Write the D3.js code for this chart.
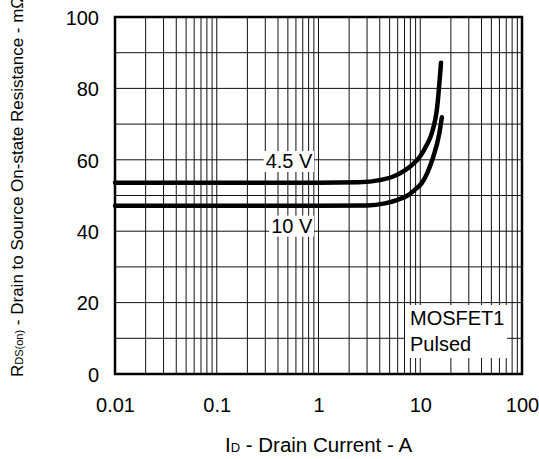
<!DOCTYPE html>
<html>
<head>
<meta charset="utf-8">
<script src="https://cdn.jsdelivr.net/npm/d3@7"></script>
<style>
  body { margin: 0; background: #fff; }
  text { font-family: "Liberation Sans", Arial, sans-serif; fill: #000; }
</style>
</head>
<body>
<div id="chart"></div>
<script>
// Rds(on) vs drain current, two gate voltages

// data
var id_45 = [0.01, 1, 2.5, 4, 5.5, 7, 8.5, 10, 11.5, 13, 14.7, 16]
var rds_45 = [53.6, 53.6, 53.7, 54.3, 55.4, 57.0, 58.8, 61.0, 64.0, 67.5, 75.0, 87.2]
var id_10 = [0.01, 1, 3, 4.5, 6, 7.5, 9, 10.3, 11.8, 13.3, 15.4, 16.3]
var rds_10 = [47.1, 47.1, 47.2, 47.8, 48.8, 50.0, 51.8, 53.4, 56.5, 60.5, 67.4, 71.9]

var x_ticks = [0.01, 0.1, 1, 10, 100]
var x_tick_labels = ['0.01', '0.1', '1', '10', '100']
var y_ticks = [0, 20, 40, 60, 80, 100]

// series labels: text, anchor current (right end), anchor resistance (baseline)
var series_labels = [
    { text: '4.5 V', i: 0.87, r: 57.7 },
    { text: '10 V',  i: 0.87, r: 39.6 }
]

// sizes
var width = 539, height = 459
var margin = { top: 17, right: 17, bottom: 85, left: 115 }
var w = width - margin.left - margin.right
var h = height - margin.top - margin.bottom

var svg = d3.select('#chart').append('svg')
    .attr('width', width)
    .attr('height', height)

var g = svg.append('g').attr('transform', `translate(${margin.left},${margin.top})`)

var x = d3.scaleLog().domain([0.01, 100]).range([0, w])
var y = d3.scaleLinear().domain([0, 100]).range([h, 0])

// grid
g.append('g').selectAll('line').data(x.ticks())
  .enter().append('line')
    .attr('x1', d => x(d)).attr('x2', d => x(d))
    .attr('y1', 0).attr('y2', h)
    .attr('stroke', '#111').attr('stroke-width', 1)

g.append('g').selectAll('line').data(d3.range(10, 100, 10))
  .enter().append('line')
    .attr('x1', 0).attr('x2', w)
    .attr('y1', d => y(d)).attr('y2', d => y(d))
    .attr('stroke', '#111').attr('stroke-width', 1)

// axes (labels only)
var xAxis = g.append('g')
    .attr('transform', `translate(0,${h})`)
    .call(d3.axisBottom(x).tickValues(x_ticks).tickSize(0).tickPadding(0)
        .tickFormat((d, i) => x_tick_labels[i]))
xAxis.select('.domain').remove()
xAxis.selectAll('text')
    .attr('dy', null).attr('y', 38)
    .style('font-size', '20px').style('font-family', '"Liberation Sans", Arial, sans-serif')

var yAxis = g.append('g')
    .call(d3.axisLeft(y).tickValues(y_ticks).tickSize(0).tickPadding(16))
yAxis.select('.domain').remove()
yAxis.selectAll('text')
    .attr('dy', '0.36em')
    .style('font-size', '20px').style('font-family', '"Liberation Sans", Arial, sans-serif')

// curves
var line = d3.line()
    .x(d => x(d[0]))
    .y(d => y(d[1]))
    .curve(d3.curveMonotoneX)

var curves = [d3.zip(id_45, rds_45), d3.zip(id_10, rds_10)]
g.append('g').selectAll('path').data(curves)
  .enter().append('path')
    .attr('d', line)
    .attr('fill', 'none')
    .attr('stroke', '#000')
    .attr('stroke-width', 4.5)
    .attr('stroke-linecap', 'round')

// series labels with white box
series_labels.forEach(function(s) {
    var t = g.append('text')
        .attr('x', x(s.i))
        .attr('y', y(s.r))
        .attr('text-anchor', 'end')
        .style('font-size', '20px')
        .text(s.text)
    var b = t.node().getBBox()
    g.insert('rect', function() { return t.node() })
        .attr('x', b.x - 2).attr('y', b.y + 1)
        .attr('width', b.width + 3).attr('height', b.height - 1)
        .attr('fill', '#fff')
})

// MOSFET1 / Pulsed note
var note = g.append('g')
note.append('text').attr('x', 295).attr('y', 308).style('font-size', '20px').text('MOSFET1')
note.append('text').attr('x', 295).attr('y', 334).style('font-size', '20px').text('Pulsed')
note.insert('rect', 'text')
    .attr('x', 290).attr('y', 288)
    .attr('width', 102).attr('height', 53)
    .attr('fill', '#fff')

// frame
g.append('rect')
    .attr('width', w).attr('height', h)
    .attr('fill', 'none')
    .attr('stroke', '#000')
    .attr('stroke-width', 2.5)

// axis titles
var xt = svg.append('text')
    .attr('x', margin.left + w / 2)
    .attr('y', 452)
    .attr('text-anchor', 'middle')
    .style('font-size', '20.5px')
xt.append('tspan').text('I')
xt.append('tspan').style('font-size', '13px').text('D')
xt.append('tspan').text(' - Drain Current - A')

var yt = svg.append('text')
    .attr('transform', 'translate(23,377) rotate(-90)')
    .attr('text-anchor', 'start')
    .style('font-size', '17px')
yt.append('tspan').text('R')
yt.append('tspan').style('font-size', '11px').text('DS(on)')
yt.append('tspan').text(' - Drain to Source On-state Resistance - mΩ')
</script>
</body>
</html>
